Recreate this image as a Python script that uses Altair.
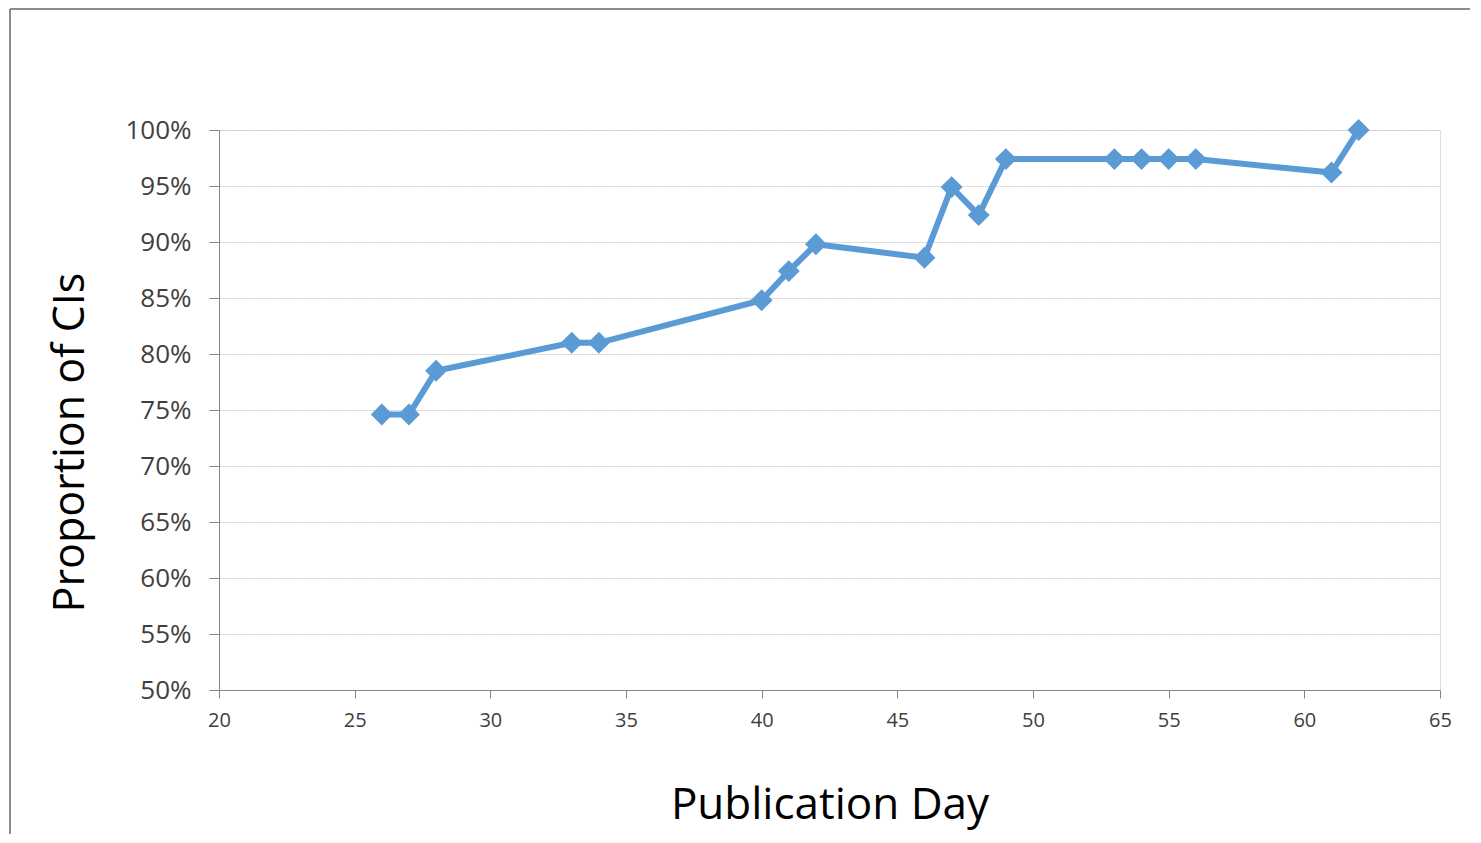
import altair as alt
import pandas as pd

days = [26, 27, 28, 33, 34, 40, 41, 42, 46, 47, 48, 49, 53, 54, 55, 56, 61, 62]
proportion = [0.746, 0.746, 0.785, 0.810, 0.810, 0.848, 0.874, 0.898, 0.886,
              0.949, 0.924, 0.974, 0.974, 0.974, 0.974, 0.974, 0.962, 1.000]
x_ticks = list(range(20, 66, 5))
y_ticks = [round(0.5 + 0.05 * i, 2) for i in range(11)]

df = pd.DataFrame({"day": days, "prop": proportion})

FONT = "Open Sans"
COLOR = "#5B9BD5"
AXC = "#868686"

x = alt.X("day:Q", title="Publication Day",
          scale=alt.Scale(domain=[20, 65], nice=False, zero=False),
          axis=alt.Axis(values=x_ticks, grid=False, labelFlush=False,
                        tickSize=8, tickColor=AXC, domainColor=AXC,
                        labelFont=FONT, labelFontSize=20, labelColor="#404040",
                        labelPadding=12,
                        titleFont=FONT, titleFontSize=44, titleFontWeight="normal",
                        titleColor="#000000", titleY=128, titleBaseline="alphabetic"))
y = alt.Y("prop:Q", title="Proportion of CIs",
          scale=alt.Scale(domain=[0.5, 1.0], nice=False, zero=False),
          axis=alt.Axis(values=y_ticks, format=".0%",
                        grid=True, gridColor="#cccccc", gridDash=[2, 1],
                        tickSize=10, tickColor=AXC, domainColor=AXC,
                        labelFont=FONT, labelFontSize=26, labelColor="#404040",
                        labelPadding=18,
                        titleFont=FONT, titleFontSize=43, titleFontWeight="normal",
                        titleColor="#000000", titleX=-136, titleY=312,
                        titleAlign="center", titleBaseline="alphabetic"))

line = alt.Chart(df).mark_line(color=COLOR, strokeWidth=6).encode(x=x, y=y)
pts = alt.Chart(df).mark_point(shape="diamond", filled=True, opacity=1,
                               color=COLOR, size=480).encode(x=x, y=y)

frame_left = alt.Chart(df).mark_rule(color="#8c8c8c", strokeWidth=1.5).encode(
    x=alt.value(-209), y=alt.value(-121), y2=alt.value(720))
frame_top = alt.Chart(df).mark_rule(color="#8c8c8c", strokeWidth=1.5).encode(
    x=alt.value(-209), x2=alt.value(1260), y=alt.value(-121))

chart = alt.layer(frame_left, frame_top, line, pts).properties(
    width=1221, height=560,
    autosize=alt.AutoSizeParams(type="none"),
    padding={"left": 211, "top": 122, "right": 30, "bottom": 144},
).configure_view(stroke="transparent", strokeWidth=0, strokeOpacity=0).configure(background="white")

chart.save("out.html", embed_options={"renderer": "svg", "actions": False})
